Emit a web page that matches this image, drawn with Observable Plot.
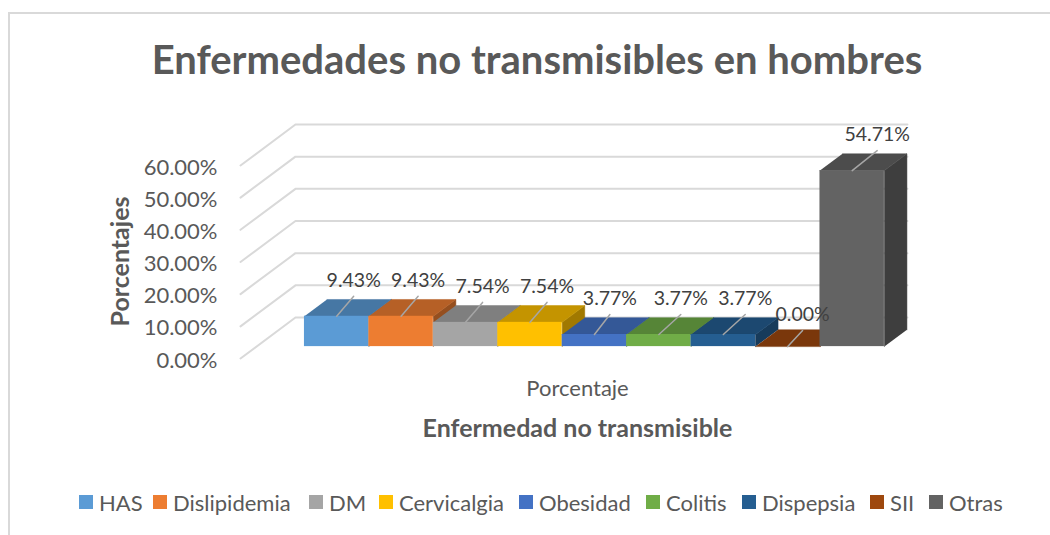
<!DOCTYPE html>
<html lang="es">
<head>
<meta charset="utf-8">
<script src="https://cdn.jsdelivr.net/npm/d3@7"></script>
<script src="https://cdn.jsdelivr.net/npm/@observablehq/plot@0.6"></script>
<style>
  html, body { margin: 0; padding: 0; background: #fff; overflow: hidden; }
  #chart { position: relative; width: 1050px; height: 535px; font-family: Lato, sans-serif; }
  #chart svg { position: absolute; left: 0; top: 0; overflow: visible; background: none; }
  #frame { position: absolute; left: 8px; top: 12px; width: 1042px; height: 523px; border-left: 2px solid #d9d9d9; border-top: 2px solid #d9d9d9; box-sizing: border-box; }
  #title { position: absolute; left: 0; top: 32px; width: 1074px; text-align: center; margin: 0; font-size: 40px; line-height: 54px; font-weight: 700; color: #595959; white-space: nowrap; }
  #legend { position: absolute; left: 0; top: 490px; height: 24px; font-size: 22px; color: #595959; white-space: nowrap; }
  #legend span.item { position: absolute; display: flex; align-items: center; height: 24px; }
  #legend i { display: inline-block; width: 14px; height: 14px; margin-right: 6px; }
</style>
</head>
<body>
<div id="chart">
  <div id="frame"></div>
  <h1 id="title">Enfermedades no transmisibles en hombres</h1>
  <div id="legend"></div>
</div>
<script>
const categories = ["HAS", "Dislipidemia", "DM", "Cervicalgia", "Obesidad", "Colitis", "Dispepsia", "SII", "Otras"];
const values = [9.43, 9.43, 7.54, 7.54, 3.77, 3.77, 3.77, 0, 54.71];
const colors = ["#5b9bd5", "#ed7d31", "#a5a5a5", "#ffc000", "#4472c4", "#70ad47", "#255e91", "#9e480e", "#636363"];
const yTicks = [0, 10, 20, 30, 40, 50, 60];
const xCategory = "Porcentaje";
const xTitle = "Enfermedad no transmisible";
const yTitle = "Porcentajes";

// Oblique projection, in scale units: one x unit is one bar width, one y unit is one percent.
const depthX = 0.853, depthY = 12.74;      // shift of the whole floor depth
const barNear = 0.29, barFar = 0.70;       // depth span occupied by the bars
const barStart = 0.745;                    // first bar's offset from the front corner
const wallEnd = 10.35;                     // right end of the back wall
const xOf = (i, d) => i + barStart + d * depthX;
const yOf = (v, d) => v + d * depthY;
const shade = (c, k) => { const o = d3.rgb(c); return d3.rgb(o.r * k, o.g * k, o.b * k).formatHex(); };

const pxX = 64.44;                         // px per x unit
const pxY = 3.217;                         // px per y unit
const leaderRun = [0.264, 0.264, 0.264, 0.264, 0.24, 0.34, 0.34, 0.23, 0.388];
const leaderRise = [6.2, 6.2, 6.2, 6.2, 6.2, 6.2, 6.2, 5, 6.2];

const grid = yTicks.flatMap(t => [
  {t, x: 0, y: t},
  {t, x: depthX, y: yOf(t, 1)},
  {t, x: wallEnd, y: yOf(t, 1)}
]);

const barMarks = categories.flatMap((name, i) => {
  const v = values[i], c = colors[i];
  const sideFace = [
    {x: xOf(i + 1, barNear), y: yOf(0, barNear)},
    {x: xOf(i + 1, barNear), y: yOf(v, barNear)},
    {x: xOf(i + 1, barFar), y: yOf(v, barFar)},
    {x: xOf(i + 1, barFar), y: yOf(0, barFar)}
  ];
  const topFace = [
    {x: xOf(i, barNear), y: yOf(v, barNear)},
    {x: xOf(i + 1, barNear), y: yOf(v, barNear)},
    {x: xOf(i + 1, barFar), y: yOf(v, barFar)},
    {x: xOf(i, barFar), y: yOf(v, barFar)}
  ];
  const poly = (pts, fill) => Plot.line(pts, {x: "x", y: "y", fill, stroke: fill, strokeWidth: 0.5});
  return [
    poly(sideFace, shade(c, 0.63)),
    poly(topFace, shade(c, 0.77)),
    Plot.rect([{name, v}], {
      x1: () => xOf(i, barNear),
      x2: () => xOf(i + 1, barNear),
      y1: () => yOf(0, barNear),
      y2: d => yOf(d.v, barNear),
      fill: c
    })
  ];
});

const leaders = values.flatMap((v, i) => {
  const x0 = xOf(i + 0.5, barNear), y0 = yOf(v, barNear);
  return [{i, x: x0, y: y0}, {i, x: x0 + leaderRun[i], y: y0 + leaderRise[i]}];
});
const labels = values.map((v, i) => ({
  text: v.toFixed(2) + "%",
  x: xOf(i + 0.5, barNear) + leaderRun[i],
  y: yOf(v, barNear) + leaderRise[i]
}));

const plot = Plot.plot({
  width: 1050, height: 535,
  marginLeft: 240, marginRight: 79, marginTop: 124, marginBottom: 177,
  x: {domain: [0, 731 / pxX], axis: null},
  y: {domain: [0, 234 / pxY], axis: null},
  style: {background: "none", fontFamily: "Lato, sans-serif"},
  marks: [
    Plot.line(grid, {x: "x", y: "y", z: "t", stroke: "#d9d9d9", strokeWidth: 2, curve: "linear"}),
    ...barMarks,
    Plot.line(leaders, {x: "x", y: "y", z: "i", stroke: "#a6a6a6", strokeWidth: 1.5}),
    Plot.text(labels, {x: "x", y: "y", text: "text", dy: -16, fontSize: 19.5, fill: "#404040"}),
    Plot.text(yTicks, {x: 0, y: d => d, text: d => d.toFixed(2) + "%", dx: -23, dy: 2, textAnchor: "end", fontSize: 22, fill: "#595959"}),
    Plot.text([yTitle], {x: 0, y: 0, text: d => d, rotate: -90, dx: -120, dy: -97, fontSize: 25, fontWeight: 700, fill: "#595959"}),
    Plot.text([xCategory], {x: 0, y: 0, text: d => d, dx: 337, dy: 30, fontSize: 22, fill: "#595959"}),
    Plot.text([xTitle], {x: 0, y: 0, text: d => d, dx: 337, dy: 70, fontSize: 25, fontWeight: 700, fill: "#595959"})
  ]
});
document.getElementById("chart").appendChild(plot);

const legendLeft = [79, 153, 309, 379, 519, 646, 742, 870, 929];
const legend = document.getElementById("legend");
categories.forEach((name, i) => {
  const item = document.createElement("span");
  item.className = "item";
  item.style.left = legendLeft[i] + "px";
  item.innerHTML = `<i style="background:${colors[i]}"></i>${name}`;
  legend.appendChild(item);
});
</script>
</body>
</html>
